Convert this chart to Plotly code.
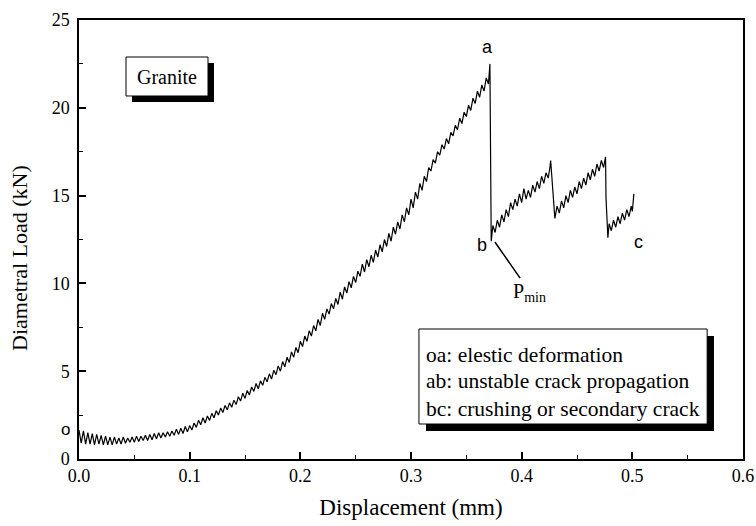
import plotly.graph_objects as go

# ---- data ----
disp_oa = [0.000, 0.002, 0.004, 0.006, 0.008, 0.010, 0.012, 0.014, 0.016, 0.018,
           0.020, 0.022, 0.024, 0.026, 0.028, 0.030, 0.032, 0.034, 0.036, 0.038,
           0.040, 0.042, 0.044, 0.046, 0.048, 0.050, 0.052, 0.054, 0.056, 0.058,
           0.060, 0.062, 0.064, 0.066, 0.068, 0.070, 0.072, 0.074, 0.076, 0.078,
           0.080, 0.082, 0.084, 0.086, 0.088, 0.090, 0.092, 0.094, 0.096, 0.098,
           0.100, 0.102, 0.104, 0.106, 0.108, 0.110, 0.112, 0.114, 0.116, 0.118,
           0.120, 0.122, 0.124, 0.126, 0.128, 0.130, 0.132, 0.134, 0.136, 0.138,
           0.140, 0.142, 0.144, 0.146, 0.148, 0.150, 0.152, 0.154, 0.156, 0.158,
           0.160, 0.162, 0.164, 0.166, 0.168, 0.170, 0.172, 0.174, 0.176, 0.178,
           0.180, 0.182, 0.184, 0.186, 0.188, 0.190, 0.192, 0.194, 0.196, 0.198,
           0.200, 0.202, 0.204, 0.206, 0.208, 0.210, 0.212, 0.214, 0.216, 0.218,
           0.220, 0.222, 0.224, 0.226, 0.228, 0.230, 0.232, 0.234, 0.236, 0.238,
           0.240, 0.242, 0.244, 0.246, 0.248, 0.250, 0.252, 0.254, 0.256, 0.258,
           0.260, 0.262, 0.264, 0.266, 0.268, 0.270, 0.272, 0.274, 0.276, 0.278,
           0.280, 0.282, 0.284, 0.286, 0.288, 0.290, 0.292, 0.294, 0.296, 0.298,
           0.300, 0.302, 0.304, 0.306, 0.308, 0.310, 0.312, 0.314, 0.316, 0.318,
           0.320, 0.322, 0.324, 0.326, 0.328, 0.330, 0.332, 0.334, 0.336, 0.338,
           0.340, 0.342, 0.344, 0.346, 0.348, 0.350, 0.352, 0.354, 0.356, 0.358,
           0.360, 0.362, 0.364, 0.366, 0.368, 0.370, 0.3713]
load_oa = [1.65, 0.90, 1.60, 0.85, 1.50, 0.85, 1.45, 0.80, 1.40, 0.85,
           1.35, 0.80, 1.30, 0.80, 1.25, 0.80, 1.25, 0.85, 1.20, 0.85,
           1.25, 0.90, 1.20, 0.95, 1.25, 0.95, 1.30, 1.00, 1.30, 1.05,
           1.35, 1.05, 1.40, 1.10, 1.45, 1.15, 1.50, 1.20, 1.50, 1.25,
           1.55, 1.30, 1.60, 1.35, 1.70, 1.40, 1.75, 1.45, 1.85, 1.55,
           1.90, 1.65, 2.05, 1.80, 2.20, 1.95, 2.35, 2.05, 2.45, 2.20,
           2.60, 2.35, 2.75, 2.50, 2.90, 2.65, 3.05, 2.80, 3.20, 2.95,
           3.35, 3.10, 3.55, 3.30, 3.75, 3.45, 3.90, 3.65, 4.10, 3.85,
           4.30, 4.00, 4.45, 4.20, 4.65, 4.40, 4.85, 4.55, 5.05, 4.80,
           5.30, 5.00, 5.55, 5.25, 5.80, 5.50, 6.10, 5.80, 6.35, 6.05,
           6.70, 6.40, 7.00, 6.70, 7.30, 7.00, 7.60, 7.30, 7.95, 7.60,
           8.30, 7.95, 8.55, 8.25, 8.85, 8.55, 9.15, 8.80, 9.50, 9.10,
           9.80, 9.45, 10.10, 9.75, 10.40, 10.05, 10.70, 10.40, 11.10, 10.65,
           11.35, 10.95, 11.60, 11.20, 11.90, 11.50, 12.20, 11.80, 12.50, 12.10,
           12.85, 12.40, 13.20, 12.80, 13.50, 13.10, 13.90, 13.50, 14.30, 13.90,
           14.80, 14.30, 15.20, 14.80, 15.70, 15.30, 16.10, 15.80, 16.60, 16.40,
           17.05, 16.85, 17.50, 17.30, 17.90, 17.65, 18.25, 17.95, 18.60, 18.40,
           19.00, 18.75, 19.40, 19.10, 19.75, 19.50, 20.15, 19.85, 20.55, 20.25,
           20.95, 20.60, 21.30, 20.95, 21.70, 21.35, 22.50]

disp_bc = [0.3725, 0.374, 0.376, 0.378, 0.380, 0.382, 0.384, 0.386, 0.388, 0.390,
           0.392, 0.394, 0.396, 0.398, 0.400, 0.402, 0.404, 0.406, 0.408, 0.410,
           0.412, 0.414, 0.416, 0.418, 0.420, 0.422, 0.424, 0.4255, 0.4262,
           0.4300, 0.432, 0.434, 0.436, 0.438, 0.440, 0.442, 0.444, 0.446, 0.448,
           0.450, 0.452, 0.454, 0.456, 0.458, 0.460, 0.462, 0.464, 0.466, 0.468,
           0.470, 0.472, 0.474, 0.4758,
           0.4762, 0.4779, 0.479, 0.481, 0.483, 0.485, 0.487, 0.489, 0.491, 0.493,
           0.495, 0.497, 0.499, 0.500, 0.5014]
load_bc = [12.40, 13.30, 12.90, 13.60, 13.20, 13.90, 13.50, 14.20, 13.80, 14.60,
           14.20, 14.80, 14.40, 15.10, 14.60, 15.40, 14.80, 15.30, 14.90, 15.60,
           15.20, 15.80, 15.40, 16.10, 15.70, 16.30, 16.00, 16.60, 17.00,
           13.70, 14.40, 14.00, 14.70, 14.30, 15.00, 14.60, 15.30, 14.90, 15.50,
           15.10, 15.80, 15.40, 16.00, 15.60, 16.30, 15.90, 16.50, 16.10, 16.80,
           16.40, 17.00, 16.60, 17.20,
           14.90, 12.60, 13.40, 13.00, 13.60, 13.20, 13.80, 13.40, 14.00, 13.60,
           14.20, 13.80, 14.40, 14.10, 15.10]

x_ticks = [0.0, 0.1, 0.2, 0.3, 0.4, 0.5, 0.6]
y_ticks = [0, 5, 10, 15, 20, 25]
notes = ["oa: elestic deformation",
         "ab: unstable crack propagation",
         "bc: crushing or secondary crack"]

SERIF = "Liberation Serif, Times New Roman, serif"
SANS = "Liberation Sans, Arial, sans-serif"

fig = go.Figure()
fig.add_trace(go.Scatter(x=disp_oa + disp_bc, y=load_oa + load_bc, mode="lines",
                         line=dict(color="black", width=1.2), showlegend=False,
                         hoverinfo="skip"))

axis_common = dict(showline=True, linecolor="black", linewidth=1.5, mirror=True,
                   ticks="inside", ticklen=7, tickwidth=1.5, tickcolor="black",
                   showgrid=False, zeroline=False, automargin=False,
                   tickfont=dict(family=SERIF, size=18, color="black"))
fig.update_xaxes(range=[0, 0.6], tickvals=x_ticks, tickformat=".1f",
                 minor=dict(ticks="inside", ticklen=4, tickwidth=1.2, tickcolor="black", dtick=0.05, tick0=0),
                 title=dict(text="Displacement (mm)", font=dict(family=SERIF, size=23, color="black"), standoff=14),
                 **axis_common)
fig.update_yaxes(range=[0, 25], tickvals=y_ticks, ticklabelstandoff=4,
                 minor=dict(ticks="inside", ticklen=4, tickwidth=1.2, tickcolor="black", dtick=2.5, tick0=0),
                 **axis_common)

shapes = [
    # Granite box shadow and box
    dict(type="rect", xref="paper", yref="paper", x0=0.0798, x1=0.2033, y0=0.8132, y1=0.9021,
         fillcolor="black", line=dict(width=0)),
    dict(type="rect", xref="paper", yref="paper", x0=0.0708, x1=0.1943, y0=0.8269, y1=0.9157,
         fillcolor="white", line=dict(color="black", width=1)),
    # note box shadow and box
    dict(type="rect", xref="paper", yref="paper", x0=0.5226, x1=0.9563, y0=0.0638, y1=0.2802,
         fillcolor="black", line=dict(width=0)),
    dict(type="rect", xref="paper", yref="paper", x0=0.512, x1=0.946, y0=0.0797, y1=0.2961,
         fillcolor="white", line=dict(color="black", width=1)),
]
fig.update_layout(shapes=shapes)

ann = [
    dict(x=-0.0889, y=0.458, xref="paper", yref="paper", text="Diametral Load (kN)",
         showarrow=False, textangle=-90, xanchor="center", yanchor="middle",
         font=dict(family=SERIF, size=22, color="black")),
    dict(x=0.1325, y=0.871, xref="paper", yref="paper", text="Granite", showarrow=False,
         xanchor="center", yanchor="middle",
         font=dict(family=SERIF, size=20, color="black")),
    dict(x=0.3695, y=23.45, xref="x", yref="y", text="a", showarrow=False,
         xanchor="center", yanchor="middle",
         font=dict(family=SANS, size=18, color="black")),
    dict(x=0.364, y=12.2, xref="x", yref="y", text="b", showarrow=False,
         xanchor="center", yanchor="middle",
         font=dict(family=SANS, size=18, color="black")),
    dict(x=0.506, y=12.35, xref="x", yref="y", text="c", showarrow=False,
         xanchor="center", yanchor="middle",
         font=dict(family=SANS, size=18, color="black")),
    dict(x=-0.021, y=0.068, xref="paper", yref="paper", text="o", showarrow=False,
         xanchor="center", yanchor="middle",
         font=dict(family=SANS, size=17, color="black")),
    dict(x=0.3758, y=12.36, xref="x", yref="y", ax=0.4074, ay=9.5, axref="x", ayref="y",
         text="P<sub>min</sub>", showarrow=True, arrowhead=0, arrowwidth=1.5, arrowcolor="black",
         xanchor="center", yanchor="middle",
         font=dict(family=SERIF, size=20, color="black")),
]
ys = [0.238, 0.177, 0.115]
for t, yy in zip(notes, ys):
    ann.append(dict(x=0.52, y=yy, xref="paper", yref="paper", text=t, showarrow=False,
                    xanchor="left", yanchor="middle",
                    font=dict(family=SERIF, size=21.5, color="black")))
fig.update_layout(annotations=ann)

fig.update_layout(width=756, height=526, margin=dict(l=79, r=13, t=20, b=67),
                  paper_bgcolor="white", plot_bgcolor="white")
fig.write_html("out.html")
